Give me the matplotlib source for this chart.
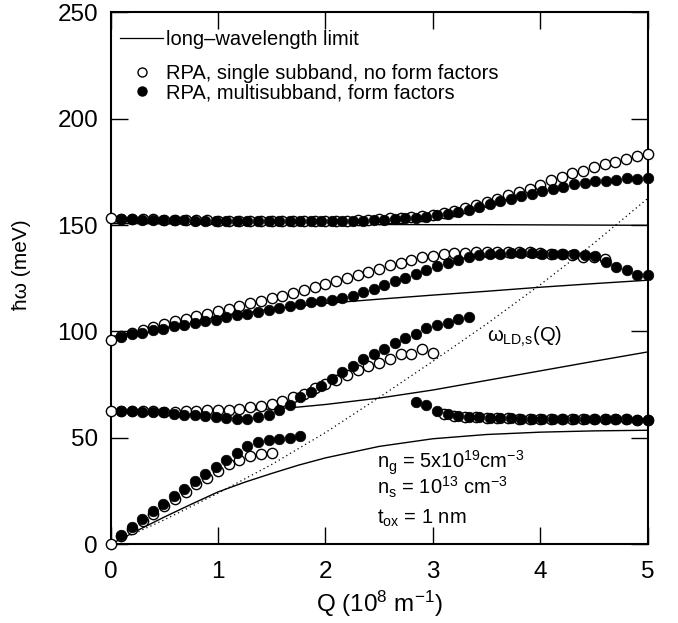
import matplotlib
matplotlib.use('Agg')
import matplotlib.pyplot as plt
from matplotlib.lines import Line2D

plt.rcParams['font.family'] = ['Liberation Sans', 'DejaVu Sans']
plt.rcParams['mathtext.default'] = 'regular'

# Q grids (10^8 m^-1): single subband on a 0.1 step, multisubband on 5/51 step
q_open = [0.0, 0.1, 0.2, 0.3, 0.4, 0.5, 0.6, 0.7, 0.8, 0.9,
          1.0, 1.1, 1.2, 1.3, 1.4, 1.5, 1.6, 1.7, 1.8, 1.9,
          2.0, 2.1, 2.2, 2.3, 2.4, 2.5, 2.6, 2.7, 2.8, 2.9,
          3.0, 3.1, 3.2, 3.3, 3.4, 3.5, 3.6, 3.7, 3.8, 3.9,
          4.0, 4.1, 4.2, 4.3, 4.4, 4.5, 4.6, 4.7, 4.8, 4.9, 5.0]
q_fill = [0.000, 0.098, 0.196, 0.294, 0.392, 0.490, 0.588, 0.686, 0.784, 0.882,
          0.980, 1.078, 1.176, 1.275, 1.373, 1.471, 1.569, 1.667, 1.765, 1.863,
          1.961, 2.059, 2.157, 2.255, 2.353, 2.451, 2.549, 2.647, 2.745, 2.843,
          2.941, 3.039, 3.137, 3.235, 3.333, 3.431, 3.529, 3.627, 3.725, 3.824,
          3.922, 4.020, 4.118, 4.216, 4.314, 4.412, 4.510, 4.608, 4.706, 4.804,
          4.902, 5.000]

# RPA, single subband, no form factors (open), starts at q_open index 0 unless noted
open_top = [153.3, 153.0, 152.9, 152.8, 152.7, 152.6, 152.5, 152.4, 152.3, 152.2,
            152.1, 152.0, 152.0, 151.9, 151.9, 151.9, 151.8, 151.8, 151.8, 151.9,
            151.9, 152.0, 152.1, 152.3, 152.5, 152.8, 153.1, 153.4, 153.8, 154.3,
            154.9, 155.7, 156.6, 157.8, 159.3, 160.9, 162.4, 164.0, 165.6, 167.1,
            169.0, 171.1, 172.6, 174.5, 175.6, 177.3, 178.9, 179.8, 181.2, 182.3, 183.3]
open_mid = [96.2, 97.8, 99.2, 100.6, 102.2, 103.5, 104.7, 105.8, 107.1, 108.2,
            109.4, 110.5, 112.0, 113.2, 114.1, 115.6, 116.9, 118.2, 119.5, 120.9,
            122.2, 123.7, 125.0, 126.5, 128.0, 129.5, 131.1, 132.3, 133.5, 134.8,
            135.5, 136.3, 136.9, 136.9, 137.4, 137.4, 137.4, 137.4, 137.4, 137.3,
            136.9, 136.6, 136.3, 135.8, 135.2, 134.8, 134.3]
open_low = [62.7, 62.7, 62.6, 62.5, 62.5, 62.4, 62.4, 62.5, 62.7, 63.0,
            63.3, 63.3, 63.8, 64.3, 64.9, 65.8, 67.4, 69.0, 70.8, 73.5,
            75.2, 77.4, 79.4, 81.8, 83.6, 85.2, 87.2, 89.3, 89.6, 92.0, 89.9]
open_bot = [0.3, 3.8, 7.4, 10.9, 14.4, 17.8, 21.2, 24.6, 28.3, 31.3,
            34.6, 37.9, 39.8, 41.4, 42.6, 43.1]
open_flat = [61.0, 60.3, 59.9, 59.6, 59.4, 59.3, 59.2, 59.1, 59.0, 59.0,
             58.9, 58.9, 58.8, 58.8, 58.8, 58.7, 58.7, 58.7, 58.6, 58.6]
open_flat_start = 31

# RPA, multisubband, form factors (filled), starts at q_fill index 1 unless noted
fill_top = [152.8, 152.7, 152.6, 152.5, 152.4, 152.3, 152.2, 152.1, 152.0, 152.0,
            151.9, 151.9, 151.8, 151.8, 151.8, 151.7, 151.7, 151.7, 151.7, 151.8,
            151.8, 151.9, 152.0, 152.1, 152.3, 152.6, 152.9, 153.1, 153.5, 154.0,
            154.6, 155.4, 156.2, 157.3, 158.5, 159.8, 161.2, 162.4, 163.5, 164.8,
            165.9, 167.1, 167.9, 169.2, 169.8, 170.7, 170.8, 171.1, 172.1, 171.6, 172.1]
fill_mid = [97.4, 98.7, 99.5, 100.6, 101.4, 102.4, 102.9, 104.0, 104.9, 105.6,
            106.8, 107.6, 108.4, 109.2, 110.0, 111.2, 111.8, 113.0, 113.8, 114.3,
            115.0, 115.9, 116.8, 118.6, 120.1, 122.0, 123.7, 125.2, 127.2, 129.1,
            130.6, 132.2, 133.8, 135.2, 136.0, 136.4, 136.6, 136.9, 136.9, 136.7,
            136.6, 136.6, 136.3, 136.3, 136.1, 135.5, 132.7, 130.3, 128.8, 126.4, 126.4]
fill_low = [62.7, 62.7, 62.3, 62.3, 62.0, 61.4, 60.9, 60.6, 60.3, 59.8,
            59.5, 58.9, 58.9, 59.8, 60.6, 63.3, 65.3, 69.0, 71.8, 74.5,
            77.5, 81.0, 83.6, 86.9, 89.6, 92.0, 94.8, 97.0, 99.0, 101.8,
            102.9, 104.2, 105.7, 106.8]
fill_bot = [4.2, 8.1, 11.7, 15.7, 19.1, 22.6, 26.2, 29.8, 33.2, 36.4,
            39.6, 43.1, 46.1, 48.1, 49.2, 49.7, 50.1, 50.8]
fill_flat = [66.7, 65.6, 62.6, 61.0, 60.4, 59.9, 59.6, 59.4, 59.3, 59.2,
             59.1, 59.0, 59.0, 58.9, 58.9, 58.8, 58.8, 58.8, 58.7, 58.7,
             58.7, 58.6, 58.6]
fill_flat_start = 29

# long-wavelength limit (solid lines)
q_lw = [0.0, 0.25, 0.5, 0.75, 1.0, 1.25, 1.5, 1.75, 2.0, 2.5, 3.0, 3.5, 4.0, 4.5, 5.0]
lw_top = [150.7, 150.7, 150.6, 150.6, 150.5, 150.5, 150.5, 150.4, 150.4, 150.3,
          150.2, 150.2, 150.1, 150.0, 149.9]
lw_mid = [97.4, 100.0, 102.6, 104.9, 106.8, 108.6, 110.6, 112.0, 113.2, 115.2,
          117.1, 118.9, 120.8, 122.5, 124.1]
lw_low = [62.3, 62.3, 62.4, 62.5, 62.7, 63.0, 63.6, 64.5, 65.7, 68.7,
          72.5, 77.0, 81.5, 86.0, 90.4]
lw_bot = [0.0, 6.5, 12.8, 18.8, 24.6, 29.2, 33.3, 37.2, 40.6, 46.0,
          49.6, 51.6, 52.7, 53.3, 53.6]

# omega_LD,s(Q) (dotted)
q_ld = [0.0, 0.5, 1.0, 1.5, 2.0, 2.5, 3.0, 3.5, 4.0, 4.5, 5.0]
ld = [0.0, 11.5, 24.0, 37.5, 52.5, 69.0, 86.0, 103.5, 122.0, 141.5, 162.5]

fig = plt.figure(figsize=(6.78, 6.23), dpi=100)
ax = fig.add_axes([0.163, 0.1263, 0.7923, 0.854])

for yv in (lw_top, lw_mid, lw_low, lw_bot):
    ax.plot(q_lw, yv, color='black', lw=1.0, zorder=2)
ax.plot(q_ld, ld, color='black', lw=0.9, linestyle=(0, (1, 2.5)), zorder=2)

open_style = dict(ls='none', marker='o', ms=7.4, mfc='white', mec='black', mew=1.0,
                  zorder=3, clip_on=False)
fill_style = dict(ls='none', marker='o', ms=7.6, mfc='black', mec='black', mew=0.5,
                  zorder=4, clip_on=False)

for yv in (open_top, open_mid, open_low, open_bot):
    ax.plot(q_open[:len(yv)], yv, **open_style)
ax.plot(q_open[open_flat_start:open_flat_start + len(open_flat)], open_flat, **open_style)

for yv in (fill_top, fill_mid, fill_low, fill_bot):
    ax.plot(q_fill[1:1 + len(yv)], yv, **fill_style)
ax.plot(q_fill[fill_flat_start:fill_flat_start + len(fill_flat)], fill_flat, **fill_style)

ax.set_xlim(0, 5)
ax.set_ylim(0, 250)
ax.set_xticks([0, 1, 2, 3, 4, 5])
ax.set_yticks([0, 50, 100, 150, 200, 250])
ax.tick_params(direction='in', length=12, width=1, top=True, right=True, labelsize=17.5)
ax.tick_params(axis='x', pad=12)
ax.tick_params(axis='y', pad=9)
for sp in ax.spines.values():
    sp.set_linewidth(1.5)

ax.set_xlabel('Q (10$^{8}$ m$^{-1}$)', fontsize=17.5, labelpad=4)
ax.set_ylabel('ħω (meV)', fontsize=15)
ax.yaxis.set_label_coords(-0.148, 0.525)

ax.text(3.5, 97.3, 'ω$_{LD{,}s}$(Q)', fontsize=14.5, va='center', ha='left')
ax.text(2.48, 35.6, 'n$_{g}$ = 5x10$^{19}$cm$^{-3}$', fontsize=14.5, va='baseline')
ax.text(2.48, 23.4, 'n$_{s}$ = 10$^{13}$ cm$^{-3}$', fontsize=14.5, va='baseline')
ax.text(2.48, 9.9, 't$_{ox}$ = 1 nm', fontsize=14.5, va='baseline')

h1 = [Line2D([], [], color='black', lw=0.9)]
leg1 = ax.legend(h1, ['long–wavelength limit'], loc='upper left',
                 bbox_to_anchor=(0.0177, 0.9675), frameon=False, fontsize=14.5,
                 handlelength=2.14, handletextpad=0.15, borderpad=0, borderaxespad=0)
ax.add_artist(leg1)
h2 = [Line2D([], [], ls='none', marker='o', ms=6.5, mfc='white', mec='black', mew=1.0),
      Line2D([], [], ls='none', marker='o', ms=6.5, mfc='black', mec='black')]
ax.legend(h2, ['RPA, single subband, no form factors', 'RPA, multisubband, form factors'],
          loc='upper left', bbox_to_anchor=(0.0177, 0.902), frameon=False, fontsize=14.5,
          handlelength=2.14, handletextpad=0.15, borderpad=0, borderaxespad=0,
          labelspacing=0.0)

fig.savefig('out.png', dpi=100)
